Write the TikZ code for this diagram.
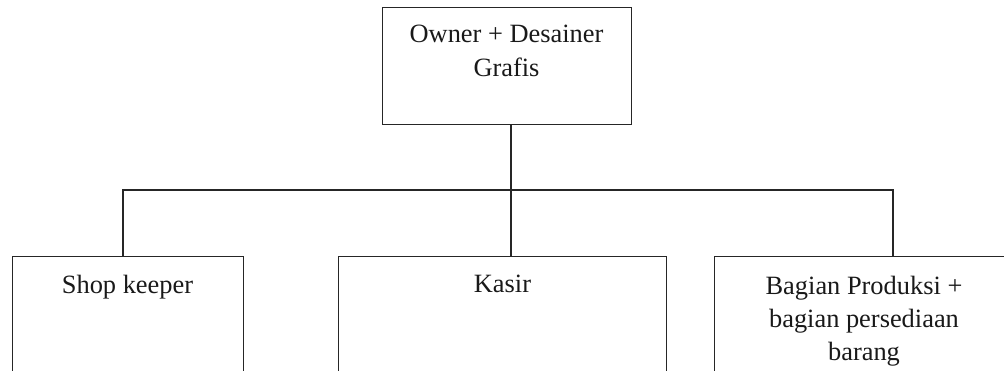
\documentclass[tikz,border=0pt]{standalone}
\usepackage{fontspec}
\setmainfont{Liberation Serif}
\begin{document}
\begin{tikzpicture}[x=1pt,y=-1pt,
  boxshape/.style={draw=black!85,line width=1.3pt,rectangle,inner sep=0pt,anchor=north west},
  boxtext/.style={inner sep=0pt,anchor=north,align=center,text=black!90,
    font=\fontsize{26.4}{34}\selectfont},
  conn/.style={draw=black!85,line width=1.3pt}]
\useasboundingbox (0,0) rectangle (1004,371);
\clip (0,0) rectangle (1004,371);
% boxes
\node[boxshape,minimum width=249pt,minimum height=117pt] (owner) at (382,7) {};
\node[boxshape,minimum width=231pt,minimum height=160pt] (shop) at (12,256) {};
\node[boxshape,minimum width=328pt,minimum height=160pt] (kasir) at (338,256) {};
\node[boxshape,minimum width=300pt,minimum height=160pt] (prod) at (714,256) {};
% texts
\node[boxtext] (townr) at (506.5,25) {Owner + Desainer\\Grafis};
\node[boxtext,font=\fontsize{26.4}{33}\selectfont] (tshop) at (127.5,275) {Shop keeper};
\node[boxtext,font=\fontsize{26.4}{33}\selectfont] (tkasir) at (502.5,275) {Kasir};
\node[boxtext,font=\fontsize{26.4}{33}\selectfont] (tprod) at (864,276) {Bagian Produksi +\\bagian persediaan\\barang};
% connectors
\coordinate (bus) at (511,190);
\draw[conn] (owner.south -| bus) -- (bus);
\draw[conn] (shop.north -| 123,0) |- (bus) -| (prod.north -| 893,0);
\draw[conn] (bus) -- (kasir.north -| bus);
\end{tikzpicture}
\end{document}
